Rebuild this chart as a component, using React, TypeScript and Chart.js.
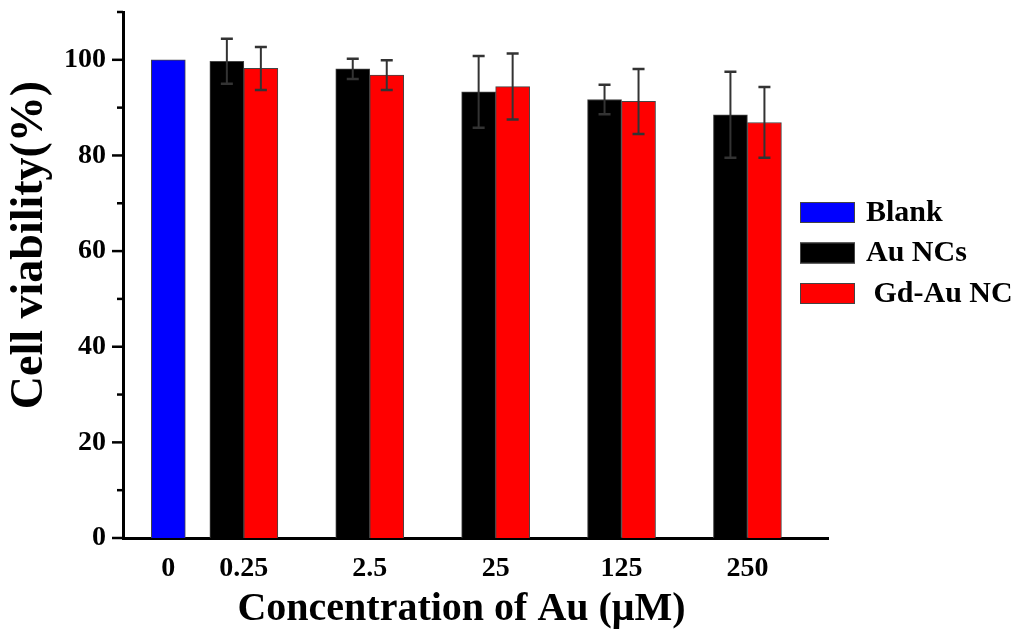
import { useEffect, useRef } from "react"
import { Chart, registerables } from "chart.js"

Chart.register(...registerables)

const categories = ["0", "0.25", "2.5", "25", "125", "250"]
const blankValues = [100, null, null, null, null, null]
const auValues = [null, 99.7, 98.1, 93.3, 91.7, 88.5]
const auErrors = [0, 4.7, 2.1, 7.5, 3.1, 9.0]
const gdValues = [null, 98.2, 96.8, 94.4, 91.3, 86.9]
const gdErrors = [0, 4.5, 3.1, 6.9, 6.8, 7.4]
const yTickValues = [0, 10, 20, 30, 40, 50, 60, 70, 80, 90, 100, 110]
const yTickLabels = [0, 20, 40, 60, 80, 100]

// where each concentration sits on the x axis (the blank group is closer to the first one)
const categoryPos = [0.4, 1, 2, 3, 4, 5]

const FONT = '"Liberation Serif", "Times New Roman", serif'

const toPoints = (values: (number | null)[]) =>
  values.map((y, i) => ({ x: categoryPos[i], y }))

// error bars, read from dataset.errors
const errorBars = {
  id: "errorBars",
  afterDatasetsDraw(chart: any) {
    const { ctx } = chart
    const yScale = chart.scales.y
    chart.data.datasets.forEach((ds: any, di: number) => {
      if (!ds.errors) return
      const meta = chart.getDatasetMeta(di)
      meta.data.forEach((bar: any, i: number) => {
        const v = ds.data[i].y
        const err = ds.errors[i]
        if (v == null || !err) return
        const top = yScale.getPixelForValue(v + err)
        const bottom = yScale.getPixelForValue(v - err)
        ctx.save()
        ctx.strokeStyle = "#333"
        ctx.lineWidth = 2
        ctx.beginPath()
        ctx.moveTo(bar.x, top)
        ctx.lineTo(bar.x, bottom)
        ctx.stroke()
        ctx.lineWidth = 2.5
        ctx.beginPath()
        ctx.moveTo(bar.x - 6, top)
        ctx.lineTo(bar.x + 6, top)
        ctx.moveTo(bar.x - 6, bottom)
        ctx.lineTo(bar.x + 6, bottom)
        ctx.stroke()
        ctx.restore()
      })
    })
  },
}

// y tick marks (major and minor), titles and legend
const decorations = {
  id: "decorations",
  afterDraw(chart: any) {
    const { ctx, chartArea } = chart
    const yScale = chart.scales.y
    ctx.save()
    ctx.strokeStyle = "#000"
    ctx.lineWidth = 2.5
    yTickValues.forEach((value) => {
      const y = yScale.getPixelForValue(value)
      const len = yTickLabels.includes(value) ? 11 : 6
      ctx.beginPath()
      ctx.moveTo(chartArea.left, y)
      ctx.lineTo(chartArea.left - len, y)
      ctx.stroke()
    })

    ctx.fillStyle = "#000"
    ctx.textAlign = "center"
    ctx.textBaseline = "alphabetic"
    ctx.font = `bold 40px ${FONT}`
    ctx.fillText(
      "Concentration of Au (\u03bcM)",
      (chartArea.left + chartArea.right) / 2 - 14,
      chartArea.bottom + 82
    )

    ctx.save()
    ctx.translate(42, (chartArea.top + chartArea.bottom) / 2 - 30)
    ctx.rotate(-Math.PI / 2)
    ctx.font = `bold 46px ${FONT}`
    ctx.fillText("Cell viability(%)", 0, 0)
    ctx.restore()

    // legend
    const left = chartArea.right - 28
    let top = chartArea.top + 190
    ctx.font = `bold 30px ${FONT}`
    ctx.textAlign = "left"
    ctx.textBaseline = "middle"
    chart.data.datasets.forEach((ds: any) => {
      ctx.fillStyle = ds.backgroundColor
      ctx.fillRect(left, top, 55, 21)
      ctx.lineWidth = 1
      ctx.strokeStyle = "#444"
      ctx.strokeRect(left + 0.5, top + 0.5, 54, 20)
      ctx.fillStyle = "#000"
      ctx.fillText(ds.label, left + 66, top + 11)
      top += 40.5
    })
    ctx.restore()
  },
}

export default function App() {
  const chartRef = useRef<HTMLCanvasElement | null>(null)
  const chartInstance = useRef<Chart | null>(null)

  useEffect(() => {
    if (!chartRef.current) return
    if (chartInstance.current) chartInstance.current.destroy()

    const ctx = chartRef.current.getContext("2d")
    if (!ctx) return

    chartInstance.current = new Chart(ctx, {
      type: "bar",
      data: {
        datasets: [
          {
            label: "Blank",
            data: toPoints(blankValues),
            backgroundColor: "#0000ff",
          },
          {
            label: "Au NCs",
            data: toPoints(auValues),
            errors: auErrors,
            backgroundColor: "#000000",
          },
          {
            label: " Gd-Au NC",
            data: toPoints(gdValues),
            errors: gdErrors,
            backgroundColor: "#ff0000",
          },
        ] as any,
      },
      options: {
        responsive: true,
        maintainAspectRatio: false,
        animation: false,
        skipNull: true,
        barThickness: 34,
        borderWidth: 1,
        borderColor: "#444",
        layout: { padding: { top: 12, right: 196, bottom: 0, left: 0 } },
        plugins: {
          legend: { display: false },
          tooltip: { enabled: false },
        },
        scales: {
          x: {
            type: "linear",
            min: 0.04,
            max: 5.64,
            offset: false,
            grid: { display: false, drawTicks: false },
            border: { display: true, width: 3, color: "#000" },
            afterBuildTicks: (scale: any) => {
              scale.ticks = categoryPos.map((value) => ({ value }))
            },
            afterFit: (scale: any) => {
              scale.height = 97
            },
            ticks: {
              color: "#000",
              padding: 14,
              autoSkip: false,
              maxRotation: 0,
              font: { family: FONT, size: 28, weight: "bold" },
              callback: (value: any) => categories[categoryPos.indexOf(value)],
            },
          },
          y: {
            min: 0,
            max: 110,
            grid: { display: false, drawTicks: false },
            border: { display: true, width: 3, color: "#000" },
            afterBuildTicks: (scale: any) => {
              scale.ticks = yTickValues.map((value) => ({ value }))
            },
            afterFit: (scale: any) => {
              scale.width = 123
              scale.paddingTop = 0
            },
            ticks: {
              color: "#000",
              padding: 17,
              autoSkip: false,
              font: { family: FONT, size: 28, weight: "bold" },
              callback: (value: any) =>
                yTickLabels.includes(value) ? String(value) : null,
            },
          },
        },
      } as any,
      plugins: [errorBars, decorations],
    })

    return () => {
      if (chartInstance.current) {
        chartInstance.current.destroy()
        chartInstance.current = null
      }
    }
  }, [])

  return (
    <div
      style={{
        position: "fixed",
        left: 0,
        top: 0,
        width: 1024,
        height: 635,
        background: "#fff",
      }}
    >
      <canvas ref={chartRef} />
    </div>
  )
}
